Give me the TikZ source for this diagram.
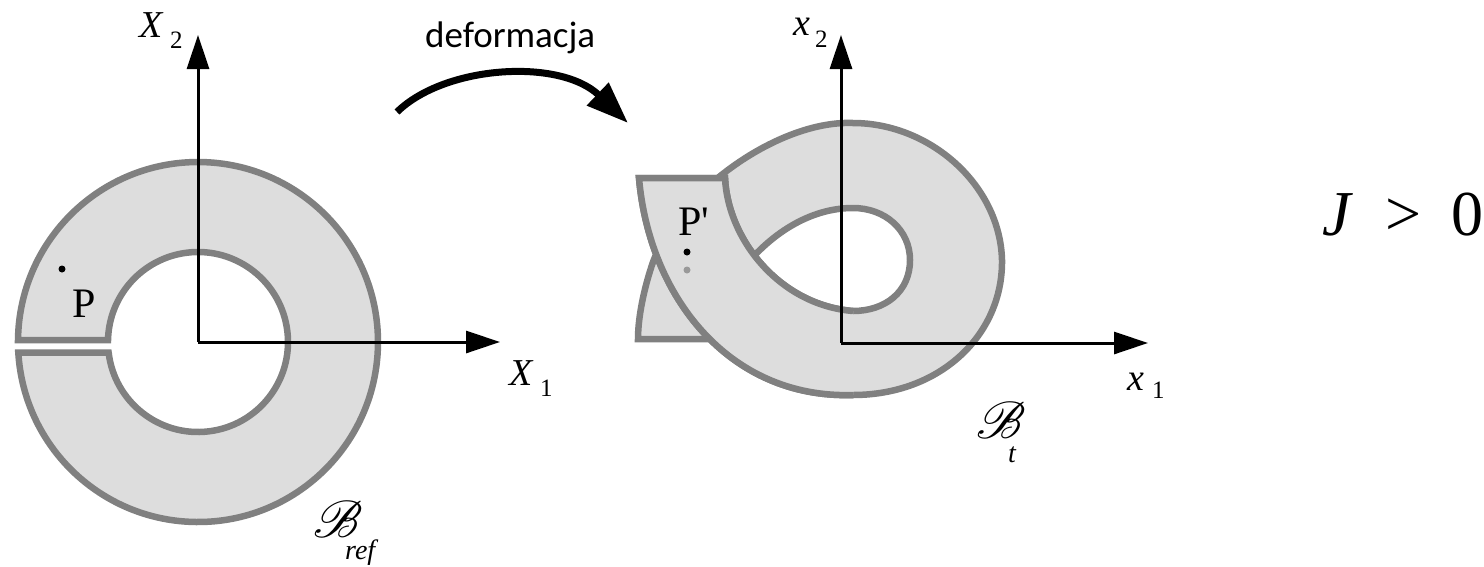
\documentclass[tikz,border=0pt]{standalone}
\usepackage{fontspec}
\setmainfont{Liberation Serif}
\newfontfamily\tnr{Liberation Serif}
\newfontfamily\carl{Carlito}
\usepackage{graphicx}
\usepackage{mathrsfs}
\usetikzlibrary{arrows.meta}
\definecolor{ringgray}{HTML}{808080}
\definecolor{ringfill}{HTML}{DDDDDD}
\definecolor{dotgray}{HTML}{999999}
\begin{document}
\begin{tikzpicture}[x=1pt,y=-1pt,
  ringline/.style={draw=ringgray, line width=6.5pt, fill=ringfill, line join=miter},
  ringedge/.style={draw=ringgray, line width=6.5pt, line join=miter},
  axis/.style={line width=3pt, -{Triangle[length=34pt,width=22pt]}},
  lbl/.style={inner sep=0pt, anchor=base west},
  bigit/.style={font=\tnr\fontsize{38}{38}\selectfont\itshape},
  subup/.style={font=\tnr\fontsize{25}{25}\selectfont},
  subit/.style={font=\tnr\fontsize{28}{28}\selectfont\itshape},
  ptlbl/.style={font=\tnr\fontsize{42}{42}\selectfont},
]
\useasboundingbox (0,0) rectangle (1484,566);

% left ring with slit
\path[ringline] (18.01,340) arc[start angle=180.64, end angle=536.66, radius=180]
  -- (108.61,352.5) arc[start angle=533.30, end angle=181.27, radius=90] -- cycle;

% right deformed ring (whole body)
\path[ringline] (639,178) .. controls (649,295) and (728,399) .. (853,395)
  .. controls (940,395) and (1003,335) .. (1002,260)
  .. controls (1000,185) and (930,123) .. (853,123)
  .. controls (780,120) and (680,190) .. (653,262)
  .. controls (645,285) and (638,315) .. (638,339)
  -- (708,339)
  .. controls (725,300) and (740,275) .. (753,257)
  .. controls (780,228) and (815,208) .. (853,208)
  .. controls (885,208) and (910,230) .. (910,260)
  .. controls (910,292) and (885,311) .. (853,311)
  .. controls (780,305) and (728,240) .. (725,178)
  -- cycle;
% flap lying on top
\fill[ringfill] (639,178) .. controls (649,295) and (728,399) .. (853,395)
  -- (853,311) .. controls (780,305) and (728,240) .. (725,178) -- cycle;
\draw[ringedge] (853,395) .. controls (728,399) and (649,295) .. (639,178)
  -- (725,178) .. controls (728,240) and (780,305) .. (853,311);

% points
\fill (62,269) circle[radius=3.5];
\fill (687,252) circle[radius=3.5];
\fill[dotgray] (687,270) circle[radius=3.5];

% axes
\coordinate (OL) at (198,342);
\coordinate (XLe) at (500,342);
\coordinate (YLe) at (198,35);
\coordinate (OR) at (841,343);
\coordinate (XRe) at (1148,343);
\coordinate (YRe) at (841,35);
\draw[axis] (OL) -- (XLe);
\draw[axis] (OL) -- (YLe);
\draw[axis] (OR) -- (XRe);
\draw[axis] (OR) -- (YRe);

% deformation arrow
\coordinate (DA) at (397,112);
\coordinate (DB) at (628,123);
\draw[line width=7pt, -{Triangle[length=42pt,width=30pt]}] (DA) .. controls (445,65) and (560,58) .. (DB);
\node[lbl, font=\carl\fontsize{37}{37}\selectfont] (def) at (425,47) {deformacja};

% labels
\node[lbl, bigit] (X2) at (139,37) {X};
\node[lbl, subup] (X2s) at (170,48) {2};
\node[lbl, bigit] (X1) at (509,385) {X};
\node[lbl, subup] (X1s) at (540,396) {1};
\node[lbl, bigit] (x2) at (793,35) {x};
\node[lbl, subup] (x2s) at (815,47) {2};
\node[lbl, bigit] (x1) at (1127,390) {x};
\node[lbl, subup] (x1s) at (1152,398) {1};
\node[lbl, ptlbl] (P) at (72,317) {P};
\node[lbl, ptlbl] (Pp) at (678,235) {P\textquotesingle};
\node[lbl] (Bref) at (313,537) {\scalebox{5.2}{$\mathscr{B}$}};
\node[lbl, subit] (ref) at (345,559) {ref};
\node[lbl] (Bt) at (976,438) {\scalebox{5.2}{$\mathscr{B}$}};
\node[lbl, subit] (t) at (1008,462) {t};
\node[lbl, font=\tnr\fontsize{64}{64}\selectfont] (J) at (1322,235) {\textit{J}\hspace{32pt}>\hspace{30pt}0};
\end{tikzpicture}
\end{document}
